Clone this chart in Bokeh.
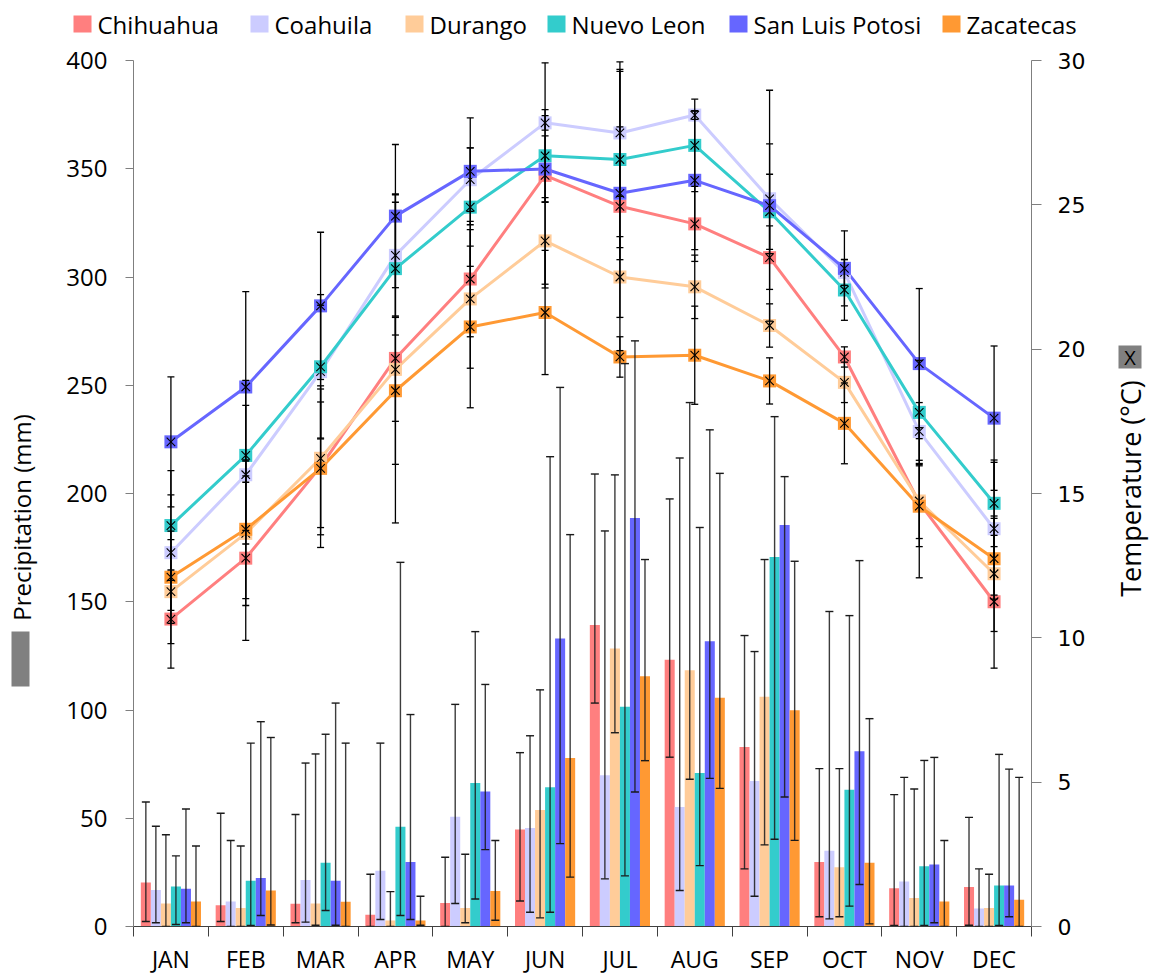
import numpy as np
from bokeh.plotting import figure
from bokeh.layouts import row, column
from bokeh.core.properties import value
from bokeh.models import Range1d, LinearAxis, FixedTicker, Whisker, TeeHead, ColumnDataSource
from bokeh.embed import file_html
from bokeh.resources import INLINE

months = ["JAN", "FEB", "MAR", "APR", "MAY", "JUN", "JUL", "AUG", "SEP", "OCT", "NOV", "DEC"]
states = ["Chihuahua", "Coahuila", "Durango", "Nuevo Leon", "San Luis Potosi", "Zacatecas"]
colors = ["#FF7F7F", "#CCCCFF", "#FFCC99", "#33CCCC", "#6666FF", "#FF9933"]

# precipitation (mm): bar value, error-bar lower end, error-bar upper end
precip_chihuahua = [20.3, 9.8, 10.5, 5.4, 10.9, 44.8, 139.3, 123.2, 82.9, 29.8, 17.7, 18.3]
precip_chihuahua_lo = [2.3, 2.3, 1.7, 0.0, 0.0, 11.8, 103.2, 78.2, 26.6, 4.5, 0.5, 0.6]
precip_chihuahua_hi = [57.5, 52.3, 51.7, 24.1, 32.0, 80.3, 209.0, 197.5, 134.4, 72.9, 60.9, 50.4]

precip_coahuila = [16.9, 11.5, 21.5, 25.8, 50.7, 45.5, 69.9, 55.2, 67.2, 35.0, 20.8, 8.3]
precip_coahuila_lo = [1.7, 0.0, 2.0, 3.2, 10.6, 6.6, 22.0, 16.6, 14.0, 3.5, 0.0, 0.0]
precip_coahuila_hi = [46.3, 39.7, 75.5, 84.7, 102.6, 88.1, 182.7, 216.4, 127.0, 145.5, 68.9, 26.6]

precip_durango = [10.6, 8.6, 10.6, 2.8, 8.6, 53.8, 128.4, 118.4, 106.1, 27.4, 13.2, 8.6]
precip_durango_lo = [0.0, 0.0, 0.6, 0.0, 1.7, 4.0, 89.5, 68.0, 37.7, 4.5, 0.0, 0.0]
precip_durango_hi = [42.4, 37.2, 79.7, 16.1, 33.4, 109.3, 208.6, 242.0, 169.5, 72.9, 63.5, 24.1]

precip_nuevo_leon = [18.5, 21.1, 29.5, 46.1, 66.3, 64.3, 101.5, 70.9, 170.7, 63.2, 27.8, 18.9]
precip_nuevo_leon_lo = [0.9, 0.5, 7.4, 5.1, 12.7, 6.6, 23.4, 28.1, 40.3, 9.4, 0.5, 0.5]
precip_nuevo_leon_hi = [32.6, 84.7, 88.8, 168.2, 136.2, 217.0, 260.0, 184.3, 235.5, 143.6, 76.7, 79.5]

precip_slp = [17.4, 22.4, 21.1, 29.8, 62.3, 133.0, 188.7, 131.8, 185.5, 81.0, 28.6, 18.9]
precip_slp_lo = [1.7, 5.1, 0.6, 3.2, 35.5, 38.3, 62.1, 68.4, 59.8, 19.4, 1.7, 4.5]
precip_slp_hi = [54.3, 94.6, 103.2, 97.9, 111.8, 249.0, 270.5, 229.4, 207.8, 169.0, 78.1, 72.7]

precip_zacatecas = [11.5, 16.6, 11.4, 2.8, 16.4, 77.8, 115.6, 105.7, 99.9, 29.5, 11.5, 12.3]
precip_zacatecas_lo = [0.0, 0.7, 0.0, 0.6, 2.9, 22.8, 76.6, 63.8, 39.8, 1.2, 0.0, 0.0]
precip_zacatecas_hi = [37.2, 87.3, 84.7, 14.0, 39.7, 181.0, 169.5, 209.3, 168.7, 96.0, 39.7, 68.9]

# temperature (deg C): mean and standard deviation
temp_chihuahua = [10.65, 12.76, 15.93, 19.68, 22.43, 26.02, 24.95, 24.34, 23.17, 19.73, 14.68, 11.25]
temp_chihuahua_sd = [1.7, 2.85, 2.8, 5.7, 2.0, 3.9, 5.0, 1.3, 1.1, 0.35, 2.6, 2.3]
temp_coahuila = [12.95, 15.65, 19.22, 23.25, 25.87, 27.84, 27.49, 28.11, 25.21, 22.66, 17.15, 13.78]
temp_coahuila_sd = [2.0, 2.4, 2.3, 2.1, 1.1, 0.25, 2.2, 0.15, 1.9, 0.45, 1.0, 2.3]
temp_durango = [11.6, 13.62, 16.22, 19.3, 21.74, 23.75, 22.5, 22.16, 20.82, 18.85, 14.74, 12.22]
temp_durango_sd = [1.8, 2.5, 2.4, 1.8, 2.4, 1.5, 1.4, 1.1, 0.75, 0.7, 1.3, 2.0]
temp_nuevo_leon = [13.89, 16.32, 19.39, 22.79, 24.92, 26.7, 26.57, 27.06, 24.76, 22.05, 17.81, 14.66]
temp_nuevo_leon_sd = [1.9, 2.6, 2.5, 2.3, 2.05, 1.6, 3.05, 1.6, 1.3, 1.05, 1.8, 1.5]
temp_slp = [16.79, 18.69, 21.5, 24.61, 26.16, 26.24, 25.4, 25.85, 24.97, 22.8, 19.5, 17.61]
temp_slp_sd = [2.25, 3.3, 2.55, 2.48, 1.85, 1.15, 2.3, 2.4, 4.0, 1.3, 2.6, 2.5]
temp_zacatecas = [12.1, 13.76, 15.87, 18.56, 20.77, 21.27, 19.73, 19.79, 18.9, 17.43, 14.56, 12.74]
temp_zacatecas_sd = [1.6, 2.4, 2.3, 2.55, 2.8, 2.15, 0.7, 1.7, 0.8, 1.4, 1.4, 1.4]

precip = [precip_chihuahua, precip_coahuila, precip_durango, precip_nuevo_leon, precip_slp, precip_zacatecas]
precip_lo = [precip_chihuahua_lo, precip_coahuila_lo, precip_durango_lo, precip_nuevo_leon_lo, precip_slp_lo, precip_zacatecas_lo]
precip_hi = [precip_chihuahua_hi, precip_coahuila_hi, precip_durango_hi, precip_nuevo_leon_hi, precip_slp_hi, precip_zacatecas_hi]
temps = [temp_chihuahua, temp_coahuila, temp_durango, temp_nuevo_leon, temp_slp, temp_zacatecas]
temps_sd = [temp_chihuahua_sd, temp_coahuila_sd, temp_durango_sd, temp_nuevo_leon_sd, temp_slp_sd, temp_zacatecas_sd]

FONT = "Open Sans"
BAR_W = 0.134
W, H = 1151, 977
LEFT_W, RIGHT_W, TOP_H = 40, 51, 42
MAIN_W = W - LEFT_W - RIGHT_W


def strip(width, height):
    f = figure(width=width, height=height, x_range=Range1d(0, width), y_range=Range1d(0, height),
               output_backend="svg", toolbar_location=None, min_border=0,
               x_axis_type=None, y_axis_type=None, frame_align=False)
    f.xgrid.visible = False
    f.ygrid.visible = False
    f.outline_line_color = None
    return f


# ---------------- main chart ----------------
p = figure(width=MAIN_W, height=H - TOP_H, x_range=Range1d(0, 12), y_range=Range1d(0, 400),
           output_backend="svg", toolbar_location=None, frame_align=False,
           min_border_left=133 - LEFT_W, min_border_right=(W - RIGHT_W) - 1031,
           min_border_top=60 - TOP_H, min_border_bottom=50)
p.extra_y_ranges = {"temp": Range1d(0, 30)}
p.xgrid.visible = False
p.ygrid.visible = False
p.outline_line_color = None

centers = np.arange(len(months)) + 0.5

for k, name in enumerate(states):
    xs = centers + (k - 2.5) * BAR_W
    src = ColumnDataSource(dict(x=xs, top=precip[k], lo=precip_lo[k], hi=precip_hi[k]))
    p.vbar(x="x", top="top", bottom=0, width=BAR_W, source=src,
           fill_color=colors[k], line_color=None)
    p.add_layout(Whisker(source=src, base="x", lower="lo", upper="hi", dimension="height",
                         line_color="#1a1a1a", line_width=1.4, line_alpha=0.85, level="annotation",
                         upper_head=TeeHead(size=8, line_color="#1a1a1a", line_width=1.4),
                         lower_head=TeeHead(size=8, line_color="#1a1a1a", line_width=1.4)))

for k, name in enumerate(states):
    src = ColumnDataSource(dict(x=centers, y=temps[k]))
    p.line("x", "y", source=src, y_range_name="temp", line_color=colors[k], line_width=3)

for k, name in enumerate(states):
    t = np.array(temps[k]); sd = np.array(temps_sd[k])
    src = ColumnDataSource(dict(x=centers, y=t, lo=t - sd, hi=t + sd))
    p.add_layout(Whisker(source=src, base="x", lower="lo", upper="hi", dimension="height",
                         y_range_name="temp", line_color="black", line_width=1.3, level="annotation",
                         upper_head=TeeHead(size=7, line_color="black", line_width=1.3),
                         lower_head=TeeHead(size=7, line_color="black", line_width=1.3)))
    p.scatter("x", "y", source=src, y_range_name="temp", marker="square", size=13,
              fill_color=colors[k], line_color=None, level="annotation")
    p.scatter("x", "y", source=src, y_range_name="temp", marker="x", size=12,
              line_color="black", line_width=1.1, level="annotation")

xa = p.xaxis[0]
xa.ticker = FixedTicker(ticks=list(centers), minor_ticks=list(range(len(months) + 1)))
xa.major_label_overrides = {float(c): m for c, m in zip(centers, months)}
xa.major_tick_out = 0
xa.major_tick_in = 0
xa.minor_tick_out = 10
xa.minor_tick_in = 0
xa.minor_tick_line_color = "#404040"
xa.axis_line_color = "#404040"
xa.major_label_text_font = FONT
xa.major_label_text_font_size = "23px"
xa.major_label_text_color = "black"
xa.major_label_standoff = 6

ya = p.yaxis[0]
ya.ticker = FixedTicker(ticks=list(range(0, 401, 50)))
ya.major_tick_out = 8
ya.major_tick_in = 0
ya.minor_tick_out = 0
ya.minor_tick_in = 0
ya.axis_line_color = "#7f7f7f"
ya.major_tick_line_color = "#7f7f7f"
ya.major_label_text_font = FONT
ya.major_label_text_font_size = "24px"
ya.major_label_text_color = "black"
ya.major_label_standoff = 18

ra = LinearAxis(y_range_name="temp", ticker=FixedTicker(ticks=list(range(0, 31, 5))))
ra.major_tick_out = 10
ra.major_tick_in = 0
ra.minor_tick_out = 0
ra.minor_tick_in = 0
ra.axis_line_color = "#7f7f7f"
ra.major_tick_line_color = "#7f7f7f"
ra.major_label_text_font = "DejaVu Sans"
ra.major_label_text_font_size = "22px"
ra.major_label_text_color = "black"
ra.major_label_standoff = 16
p.add_layout(ra, "right")

# ---------------- legend strip (top) ----------------
top = strip(MAIN_W, TOP_H)
legend_left = [73, 250, 405, 547, 729, 942]          # page x of each key square
key_x0 = [v - LEFT_W for v in legend_left]
top.quad(left=key_x0, right=[v + 18 for v in key_x0],
         bottom=[TOP_H - 32] * 6, top=[TOP_H - 15] * 6,
         fill_color=colors, line_color=None)
top.text(x=[v + 24 for v in key_x0], y=[TOP_H - 24] * 6, text=states,
         text_font=value(FONT), text_font_size="24px", text_color="black",
         text_align="left", text_baseline="middle")

# ---------------- left strip: y-axis title + key ----------------
left = strip(LEFT_W, H)
left.text(x=[21], y=[H - 517], text=["Precipitation (mm)"], angle=np.pi / 2,
          text_font=value(FONT), text_font_size="24px", text_color="black",
          text_align="center", text_baseline="middle")
left.quad(left=[11], right=[29], top=[H - 631], bottom=[H - 686],
          fill_color="#808080", line_color=None)

# ---------------- right strip: secondary y-axis title + key ----------------
right = strip(RIGHT_W, H)
right.text(x=[30], y=[H - 488], text=["Temperature (°C)"], angle=np.pi / 2,
           text_font=value(FONT), text_font_size="27px", text_color="black",
           text_align="center", text_baseline="middle")
right.quad(left=[18], right=[41], top=[H - 345], bottom=[H - 368],
           fill_color="#808080", line_color=None)
right.text(x=[29.5], y=[H - 356.5], text=["X"], text_font=value(FONT),
           text_font_size="20px", text_color="black",
           text_align="center", text_baseline="middle")

layout = row(left, column(top, p), right)
open("out.html", "w").write(file_html(layout, INLINE))
